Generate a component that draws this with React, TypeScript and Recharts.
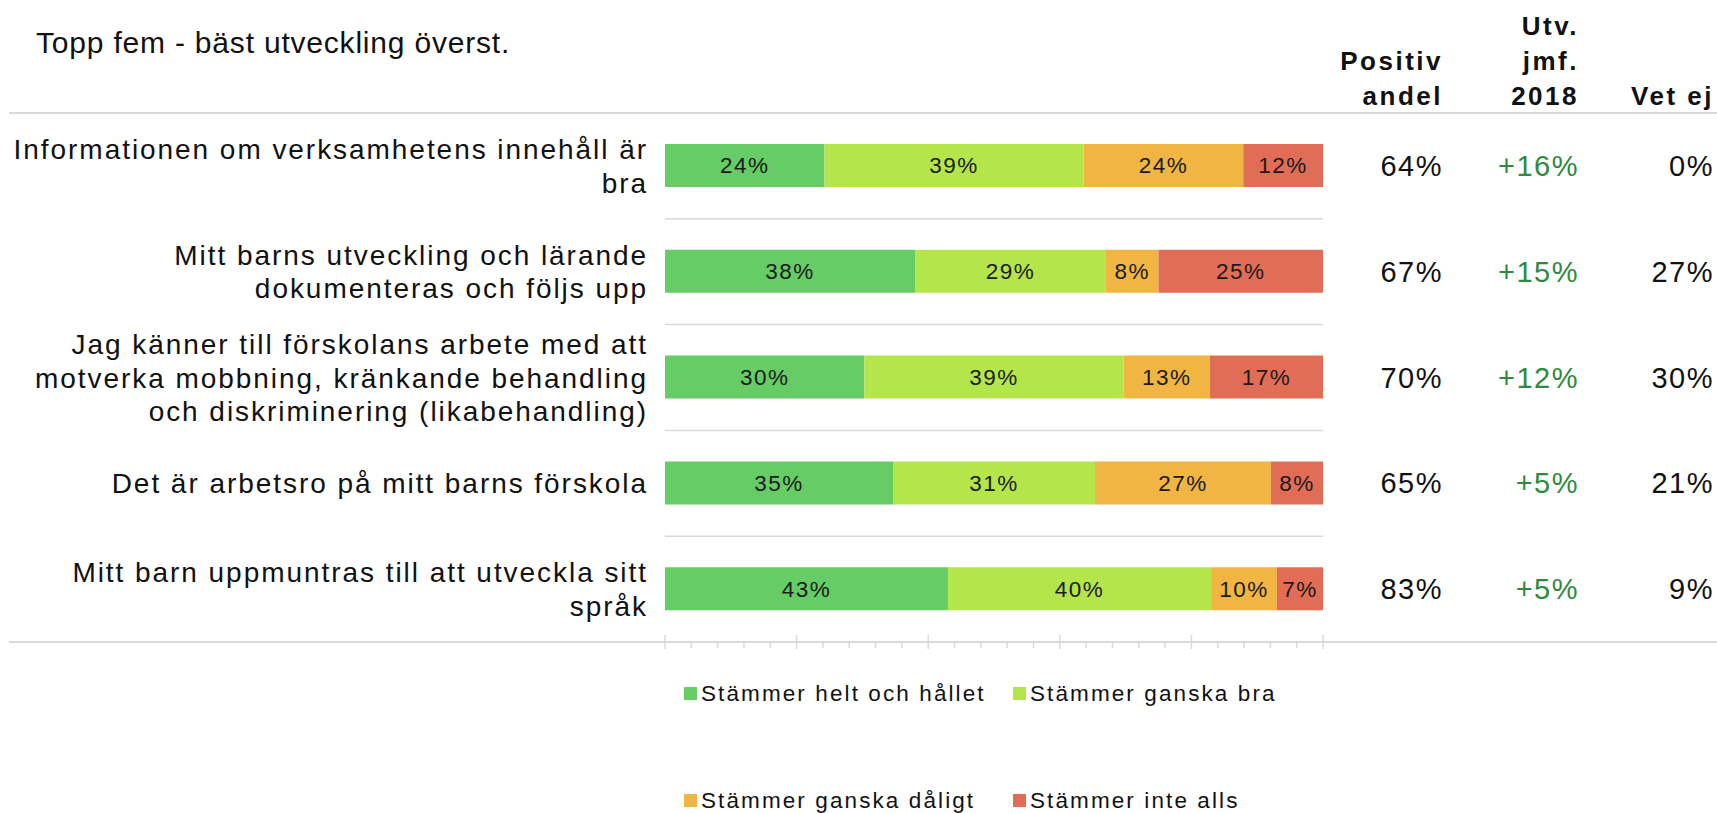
import React from 'react';
import { BarChart, Bar, XAxis, YAxis, Legend, LabelList } from 'recharts';

// Frågorna (radbrytningar som i originalet)
const categories = [
  'Informationen om verksamhetens innehåll är\nbra',
  'Mitt barns utveckling och lärande\ndokumenteras och följs upp',
  'Jag känner till förskolans arbete med att\nmotverka mobbning, kränkande behandling\noch diskriminering (likabehandling)',
  'Det är arbetsro på mitt barns förskola',
  'Mitt barn uppmuntras till att utveckla sitt\nspråk',
];

const seriesNames = [
  'Stämmer helt och hållet',
  'Stämmer ganska bra',
  'Stämmer ganska dåligt',
  'Stämmer inte alls',
];

const heltOchHallet = [24, 38, 30, 35, 43];
const ganskaBra = [39, 29, 39, 31, 40];
const ganskaDaligt = [24, 8, 13, 27, 10];
const inteAlls = [12, 25, 17, 8, 7];

const positivAndel = [64, 67, 70, 65, 83];
const utvJmf2018 = [16, 15, 12, 5, 5];
const vetEj = [0, 27, 30, 21, 9];

const axisTicks = Array.from({ length: 26 }, (_, i) => i * 0.04);

const W = 1717;
const H = 813;
const PLOT_TOP = 113;
const PLOT_BOTTOM = 642;
const PLOT_LEFT = 665;
const PLOT_RIGHT = 1323;
const ROW_H = (PLOT_BOTTOM - PLOT_TOP) / categories.length;
const FONT = '"Liberation Sans", Arial, sans-serif';
const GRID = '#d9d9d9';
const TEXT = '#111111';
const COLORS = ['#66cc66', '#b4e64c', '#f0b543', '#e16d57'];

const data = categories.map((name, i) => ({
  name,
  helt: heltOchHallet[i],
  bra: ganskaBra[i],
  daligt: ganskaDaligt[i],
  inte: inteAlls[i],
}));

const seriesKeys = ['helt', 'bra', 'daligt', 'inte'];

function CategoryTick({ x, y, payload }: any) {
  const idx = categories.indexOf(payload.value);
  const lines = String(payload.value).split('\n');
  const lh = 33.5;
  return (
    <g>
      {idx > 0 && (
        <line
          x1={PLOT_LEFT}
          x2={PLOT_RIGHT}
          y1={y - ROW_H / 2}
          y2={y - ROW_H / 2}
          stroke={GRID}
          strokeWidth={1.5}
        />
      )}
      <text
        textAnchor="end"
        dominantBaseline="central"
        fontSize={28}
        letterSpacing={1.95}
        fill={TEXT}
        fontFamily={FONT}
      >
        {lines.map((l, i) => (
          <tspan key={i} x={x} y={y + (i - (lines.length - 1) / 2) * lh}>
            {l}
          </tspan>
        ))}
      </text>
    </g>
  );
}

function ValuesTick({ x, y, payload }: any) {
  const i = categories.indexOf(payload.value);
  const common = {
    y,
    textAnchor: 'end' as const,
    dominantBaseline: 'central' as const,
    fontSize: 29,
    letterSpacing: 1.5,
    fontFamily: FONT,
  };
  return (
    <g>
      <text {...common} x={x + 120} fill={TEXT}>
        {positivAndel[i]}%
      </text>
      <text {...common} x={x + 256} fill="#2f8a3b">
        +{utvJmf2018[i]}%
      </text>
      <text {...common} x={x + 391} fill={TEXT}>
        {vetEj[i]}%
      </text>
    </g>
  );
}

function AxisTick({ x, y, payload }: any) {
  const major = Math.round(payload.value * 100) % 20 === 0;
  return major ? (
    <line x1={x} x2={x} y1={y - 7} y2={y + 7} stroke={GRID} strokeWidth={1.5} />
  ) : (
    <line x1={x} x2={x} y1={y + 1} y2={y + 6} stroke={GRID} strokeWidth={1.5} />
  );
}

function renderLegend(props: any) {
  const items = [...(props.payload || [])].sort(
    (a: any, b: any) => seriesNames.indexOf(a.value) - seriesNames.indexOf(b.value)
  );
  return (
    <div
      style={{
        display: 'grid',
        gridTemplateColumns: '329px 329px',
        gridAutoRows: '107px',
        paddingLeft: 684,
        fontFamily: FONT,
      }}
    >
      {items.map((item: any) => (
        <div key={item.value} style={{ display: 'flex', alignItems: 'center' }}>
          <span
            style={{ width: 13, height: 13, background: item.color, marginRight: 4, flex: 'none' }}
          />
          <span style={{ fontSize: 22.5, letterSpacing: 2.1, color: TEXT, whiteSpace: 'nowrap' }}>
            {item.value}
          </span>
        </div>
      ))}
    </div>
  );
}

const headerStyle: React.CSSProperties = {
  position: 'absolute',
  textAlign: 'right',
  fontFamily: FONT,
  fontWeight: 'bold',
  fontSize: 26,
  letterSpacing: 2.5,
  lineHeight: '35px',
  color: TEXT,
};

export default function App() {
  return (
    <div
      style={{
        position: 'absolute',
        left: 0,
        top: 0,
        width: W,
        height: H,
        overflow: 'hidden',
        background: '#fff',
      }}
    >
      <div
        style={{
          position: 'absolute',
          left: 36,
          top: 26,
          fontFamily: FONT,
          fontSize: 30,
          letterSpacing: 0.8,
          lineHeight: '34px',
          color: TEXT,
          whiteSpace: 'nowrap',
        }}
      >
        Topp fem - bäst utveckling överst.
      </div>

      <div style={{ ...headerStyle, right: W - 1443, top: 44 }}>
        Positiv
        <br />
        andel
      </div>
      <div style={{ ...headerStyle, right: W - 1579, top: 9 }}>
        Utv.
        <br />
        jmf.
        <br />
        2018
      </div>
      <div style={{ ...headerStyle, right: W - 1714, top: 79 }}>Vet ej</div>

      <BarChart
        width={W}
        height={H}
        data={data}
        layout="vertical"
        stackOffset="expand"
        margin={{ top: PLOT_TOP, right: 0, bottom: H - PLOT_BOTTOM - 20, left: 0 }}
      >
        <XAxis
          type="number"
          domain={[0, 1]}
          ticks={axisTicks}
          interval={0}
          height={20}
          axisLine={false}
          tickLine={false}
          tickSize={0}
          tickMargin={0}
          tick={<AxisTick />}
        />
        <YAxis
          yAxisId="left"
          type="category"
          dataKey="name"
          width={PLOT_LEFT}
          axisLine={false}
          tickLine={false}
          tickSize={0}
          tickMargin={17}
          interval={0}
          tick={<CategoryTick />}
        />
        <YAxis
          yAxisId="right"
          orientation="right"
          type="category"
          dataKey="name"
          width={W - PLOT_RIGHT}
          axisLine={false}
          tickLine={false}
          tickSize={0}
          tickMargin={0}
          interval={0}
          tick={<ValuesTick />}
        />
        <Legend
          layout="horizontal"
          verticalAlign="middle"
          align="center"
          content={renderLegend}
          wrapperStyle={{ top: 640, left: 0, width: W }}
        />
        {seriesKeys.map((key, i) => (
          <Bar
            key={key}
            yAxisId="left"
            dataKey={key}
            name={seriesNames[i]}
            stackId="a"
            fill={COLORS[i]}
            barSize={43}
            isAnimationActive={false}
          >
            <LabelList
              dataKey={key}
              position="center"
              formatter={(v: any) => `${v}%`}
              fill="#1a1a1a"
              fontSize={22.5}
              letterSpacing={1.5}
              fontFamily={FONT}
            />
          </Bar>
        ))}
      </BarChart>

      <div style={{ position: 'absolute', left: 9, right: 0, top: PLOT_TOP - 1, height: 2, background: GRID }} />
      <div style={{ position: 'absolute', left: 9, right: 0, top: PLOT_BOTTOM - 1, height: 2, background: GRID }} />
    </div>
  );
}
